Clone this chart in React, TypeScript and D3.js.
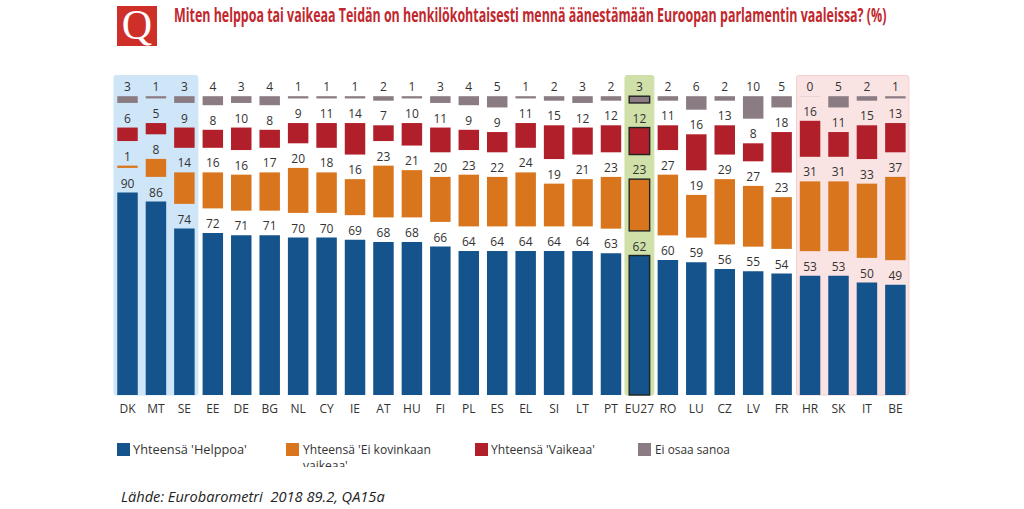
import React, { useRef, useEffect } from 'react';
import * as d3 from 'd3';

const countries = ['DK', 'MT', 'SE', 'EE', 'DE', 'BG', 'NL', 'CY', 'IE', 'AT', 'HU', 'FI', 'PL', 'ES', 'EL', 'SI', 'LT', 'PT', 'EU27', 'RO', 'LU', 'CZ', 'LV', 'FR', 'HR', 'SK', 'IT', 'BE'];
const helppoa = [90, 86, 74, 72, 71, 71, 70, 70, 69, 68, 68, 66, 64, 64, 64, 64, 64, 63, 62, 60, 59, 56, 55, 54, 53, 53, 50, 49];
const eiKovinkaan = [1, 8, 14, 16, 16, 17, 20, 18, 16, 23, 21, 20, 23, 22, 24, 19, 21, 23, 23, 27, 19, 29, 27, 23, 31, 31, 33, 37];
const vaikeaa = [6, 5, 9, 8, 10, 8, 9, 11, 14, 7, 10, 11, 9, 9, 11, 15, 12, 12, 12, 11, 16, 13, 8, 18, 16, 11, 15, 13];
const eiOsaa = [3, 1, 3, 4, 3, 4, 1, 1, 1, 2, 1, 3, 4, 5, 1, 2, 3, 2, 3, 2, 6, 2, 10, 5, 0, 5, 2, 1];

const seriesKeys = ['helppoa', 'eiKovinkaan', 'vaikeaa', 'eiOsaa'];
const seriesColors = ['#14538b', '#d9751d', '#b11f2a', '#8b7c84'];
const legendLabels = ["Yhteensä 'Helppoa'", "Yhteensä 'Ei kovinkaan", "Yhteensä 'Vaikeaa'", 'Ei osaa sanoa'];

const titleText = 'Miten helppoa tai vaikeaa Teidän on henkilökohtaisesti mennä äänestämään Euroopan parlamentin vaaleissa? (%)';
const sourceText = 'Lähde: Eurobarometri\u00a0\u00a02018 89.2, QA15a';

const font = '"Open Sans", "Noto Sans", sans-serif';

// squeeze a text horizontally to a given width, the source font is a condensed one
const fitWidth = (sel: d3.Selection<SVGTextElement, unknown, null, undefined>, x: number, y: number, width: number) => {
  const len = sel.node()!.getComputedTextLength();
  sel.attr('transform', `translate(${x}, ${y}) scale(${width / len}, 1)`);
};

const App: React.FC = () => {
  const chartRef = useRef<SVGSVGElement | null>(null);

  useEffect(() => {
    if (!chartRef.current) return;
    const svg = d3.select(chartRef.current);
    svg.selectAll('*').remove();

    const baseline = 395;
    const gap = 24.6; // white space between the stacked segments

    const x = d3.scaleBand<string>().domain(countries).range([113.28, 909.6]).paddingInner(0.28).paddingOuter(0.14);
    const y = d3.scaleLinear().domain([0, 100]).range([baseline, baseline - 225]);

    const rows = countries.map((c, i) => ({
      country: c,
      helppoa: helppoa[i],
      eiKovinkaan: eiKovinkaan[i],
      vaikeaa: vaikeaa[i],
      eiOsaa: eiOsaa[i],
    }));
    const stacked = d3.stack<any>().keys(seriesKeys)(rows);

    // highlight panels behind the bars
    const panel = (first: string, last: string, pad: number, fill: string, stroke: string) => {
      const x0 = x(first)! - pad;
      const x1 = x(last)! + x.bandwidth() + pad;
      svg.append('rect')
        .attr('x', x0).attr('y', 75.5)
        .attr('width', x1 - x0).attr('height', baseline - 75.5)
        .attr('rx', 2)
        .attr('fill', fill).attr('stroke', stroke).attr('stroke-width', 1);
    };
    panel('DK', 'SE', 3.3, '#cfe6f8', '#cfe6f8');
    panel('EU27', 'EU27', 4.2, '#cfe0a9', '#cfe0a9');
    panel('HR', 'BE', 3.3, '#fae3e3', '#f5cfcf');

    // title + Q icon
    svg.append('rect').attr('x', 117).attr('y', 6).attr('width', 40).attr('height', 40).attr('fill', '#cf2f29');
    svg.append('text')
      .attr('x', 137).attr('y', 38.5).attr('text-anchor', 'middle')
      .attr('font-family', '"Liberation Serif", serif').attr('font-size', 42)
      .attr('fill', '#fff').text('Q');
    const title = svg.append('text')
      .attr('font-family', font)
      .attr('font-size', 19).attr('font-weight', 700)
      .attr('fill', '#c1272d')
      .text(titleText);
    fitWidth(title as any, 174, 22, 713);

    // bars and value labels
    stacked.forEach((layer, s) => {
      const g = svg.append('g');
      g.selectAll('rect')
        .data(layer)
        .enter()
        .append('rect')
        .attr('x', (d: any) => x(d.data.country)!)
        .attr('y', (d: any) => y(d[1]) - gap * s)
        .attr('width', x.bandwidth())
        .attr('height', (d: any) => y(d[0]) - y(d[1]))
        .attr('fill', seriesColors[s])
        .attr('stroke', (d: any) => (d.data.country === 'EU27' ? '#222' : 'none'))
        .attr('stroke-width', 1.4);
      g.selectAll('text')
        .data(layer)
        .enter()
        .append('text')
        .attr('x', (d: any) => x(d.data.country)! + x.bandwidth() / 2)
        .attr('y', (d: any) => y(d[1]) - gap * s - 5)
        .attr('text-anchor', 'middle')
        .attr('font-family', font)
        .attr('font-size', 12)
        .attr('fill', '#333')
        .text((d: any) => d[1] - d[0]);
    });

    // thin rule for the zero value in HR
    svg.append('line')
      .attr('x1', x('HR')!).attr('x2', x('HR')! + x.bandwidth())
      .attr('y1', 96.5).attr('y2', 96.5)
      .attr('stroke', '#e8d0d0').attr('stroke-width', 0.8);

    // country axis
    const axis = svg.append('g')
      .attr('transform', `translate(0, ${baseline})`)
      .call(d3.axisBottom(x).tickSize(0).tickPadding(9));
    axis.select('.domain').remove();
    axis.selectAll('text')
      .attr('font-family', font)
      .attr('font-size', 12)
      .attr('fill', '#333');

    // legend
    const legendSwatchX = [117, 286, 475, 638];
    const legendTextX = [133, 303, 491, 655];
    const legendWidths = [114, 128, 104, 75];
    legendLabels.forEach((label, i) => {
      svg.append('rect')
        .attr('x', legendSwatchX[i]).attr('y', 443)
        .attr('width', 13).attr('height', 13)
        .attr('fill', seriesColors[i]);
      const t = svg.append('text')
        .attr('font-family', font).attr('font-size', 12).attr('fill', '#333')
        .text(label);
      fitWidth(t as any, legendTextX[i], 454, legendWidths[i]);
    });
    // second line of the orange label is cut off in the source picture
    svg.append('clipPath').attr('id', 'legendCut')
      .append('rect').attr('x', 290).attr('y', 457).attr('width', 160).attr('height', 10);
    svg.append('text')
      .attr('x', 303).attr('y', 470)
      .attr('clip-path', 'url(#legendCut)')
      .attr('font-family', font).attr('font-size', 12).attr('fill', '#333')
      .text("vaikeaa'");

    // source
    const source = svg.append('text')
      .attr('font-family', font).attr('font-style', 'italic').attr('font-size', 15)
      .attr('fill', '#222')
      .text(sourceText);
    fitWidth(source as any, 121, 502, 264);
  }, []);

  return (
    <svg
      ref={chartRef}
      width={1024}
      height={509}
      style={{ position: 'absolute', left: 0, top: 0, background: '#fff' }}
    ></svg>
  );
};

export default App;
